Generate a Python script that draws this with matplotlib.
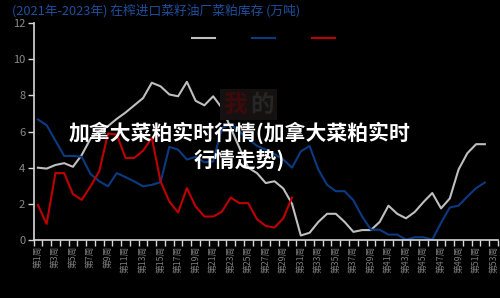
import matplotlib
matplotlib.use('Agg')
import matplotlib.pyplot as plt

plt.rcParams['font.family'] = ['Noto Sans CJK SC', 'DejaVu Sans']

# 周次与各年库存（万吨）
weeks_all = list(range(1, 54))
tick_weeks = list(range(1, 54, 2))
tick_labels = [f'第{w}周' for w in tick_weeks]
series_names = ['2021年', '2022年', '2023年']

stock_2021 = [4.0, 3.95, 4.15, 4.25, 4.05, 4.7, 5.6, 6.0, 6.3, 6.7,
              7.05, 7.45, 7.85, 8.7, 8.5, 8.05, 7.95, 8.75, 7.7, 7.45,
              7.95, 7.3, 6.2, 5.1, 4.0, 3.7, 3.15, 3.25, 2.85, 2.0,
              0.25, 0.4, 1.0, 1.45, 1.45, 1.0, 0.45, 0.55, 0.55, 1.0,
              1.9, 1.45, 1.2, 1.55, 2.1, 2.6, 1.75, 2.3, 3.9, 4.8,
              5.3, 5.3]
stock_2022 = [6.67, 6.35, 5.5, 4.65, 4.65, 4.6, 3.65, 3.25, 2.97, 3.7,
              3.48, 3.24, 2.97, 3.05, 3.2, 5.15, 5.0, 4.45, 4.6, 4.3,
              4.35, 6.2, 6.4, 6.0, 5.6, 5.2, 5.0, 4.75, 4.45, 4.0,
              4.9, 5.2, 3.9, 3.05, 2.7, 2.7, 2.2, 1.3, 0.57, 0.57,
              0.3, 0.3, 0.02, 0.15, 0.15, 0.02, 0.95, 1.8, 1.9, 2.4,
              2.87, 3.18]
stock_2023 = [1.94, 0.89, 3.7, 3.7, 2.54, 2.22, 2.96, 3.8, 5.89, 5.83,
              4.54, 4.54, 4.94, 5.65, 3.24, 2.13, 1.52, 2.87, 1.85, 1.3,
              1.3, 1.57, 2.35, 2.04, 2.04, 1.15, 0.78, 0.69, 1.2, 2.35]

colors = ['#bfbfbf', '#0b3a82', '#c00000']

fig = plt.figure(figsize=(5, 2.98), dpi=100, facecolor='black')
ax = fig.add_axes([0.067, 0.1946, 0.929, 0.728], facecolor='black')

for name, vals, c in zip(series_names, [stock_2021, stock_2022, stock_2023], colors):
    ax.plot(range(1, len(vals) + 1), vals, color=c, lw=1.5, label=name)

ax.set_xlim(0.5, 53.5)
ax.set_ylim(0, 12)
ax.set_yticks(range(0, 13, 2))
ax.set_xticks(tick_weeks)
ax.set_xticklabels(tick_labels, rotation=90, fontsize=6.3, color='#7a7a7a')
ax.set_xticks([w - 0.5 for w in weeks_all] + [53.5], minor=True)
ax.tick_params(axis='x', which='major', length=0, pad=4)
ax.tick_params(axis='x', which='minor', length=4, width=1, color='#d9d9d9', direction='out')
ax.tick_params(axis='y', length=4, width=1, color='#d9d9d9', labelcolor='#8a8a8a', labelsize=8, pad=2)

for s in ['top', 'right']:
    ax.spines[s].set_visible(False)
for s in ['left', 'bottom']:
    ax.spines[s].set_color('#d9d9d9')
    ax.spines[s].set_linewidth(1.2)

leg = fig.legend(loc='center left', bbox_to_anchor=(0.384, 0.8725), ncol=3, frameon=False,
                 fontsize=6, handlelength=2.76, handletextpad=0.3, columnspacing=0.9,
                 borderpad=0, borderaxespad=0)
for t in leg.get_texts():
    t.set_color('black')

fig.text(0.024, 0.963, '(2021年-2023年) 在榨进口菜籽油厂菜粕库存 (万吨)',
         color='#1f4e9e', fontsize=9.2, va='center', ha='left')

# 水印
fig.text(0.47, 0.648, '我', color='#3c0a0a', fontsize=17, fontweight='bold', va='center', ha='center',
         bbox=dict(boxstyle='square,pad=0.15', facecolor='#151111', edgecolor='none'))
fig.text(0.524, 0.648, '的', color='#262626', fontsize=17, fontweight='bold', va='center', ha='center',
         bbox=dict(boxstyle='square,pad=0.15', facecolor='#151111', edgecolor='none'))

fig.text(0.479, 0.509, '加拿大菜粕实时行情(加拿大菜粕实时\n行情走势)', color='white',
         fontsize=15, fontweight='bold', ha='center', va='center', linespacing=1.3)

fig.savefig('out.png', dpi=100, facecolor='black')
